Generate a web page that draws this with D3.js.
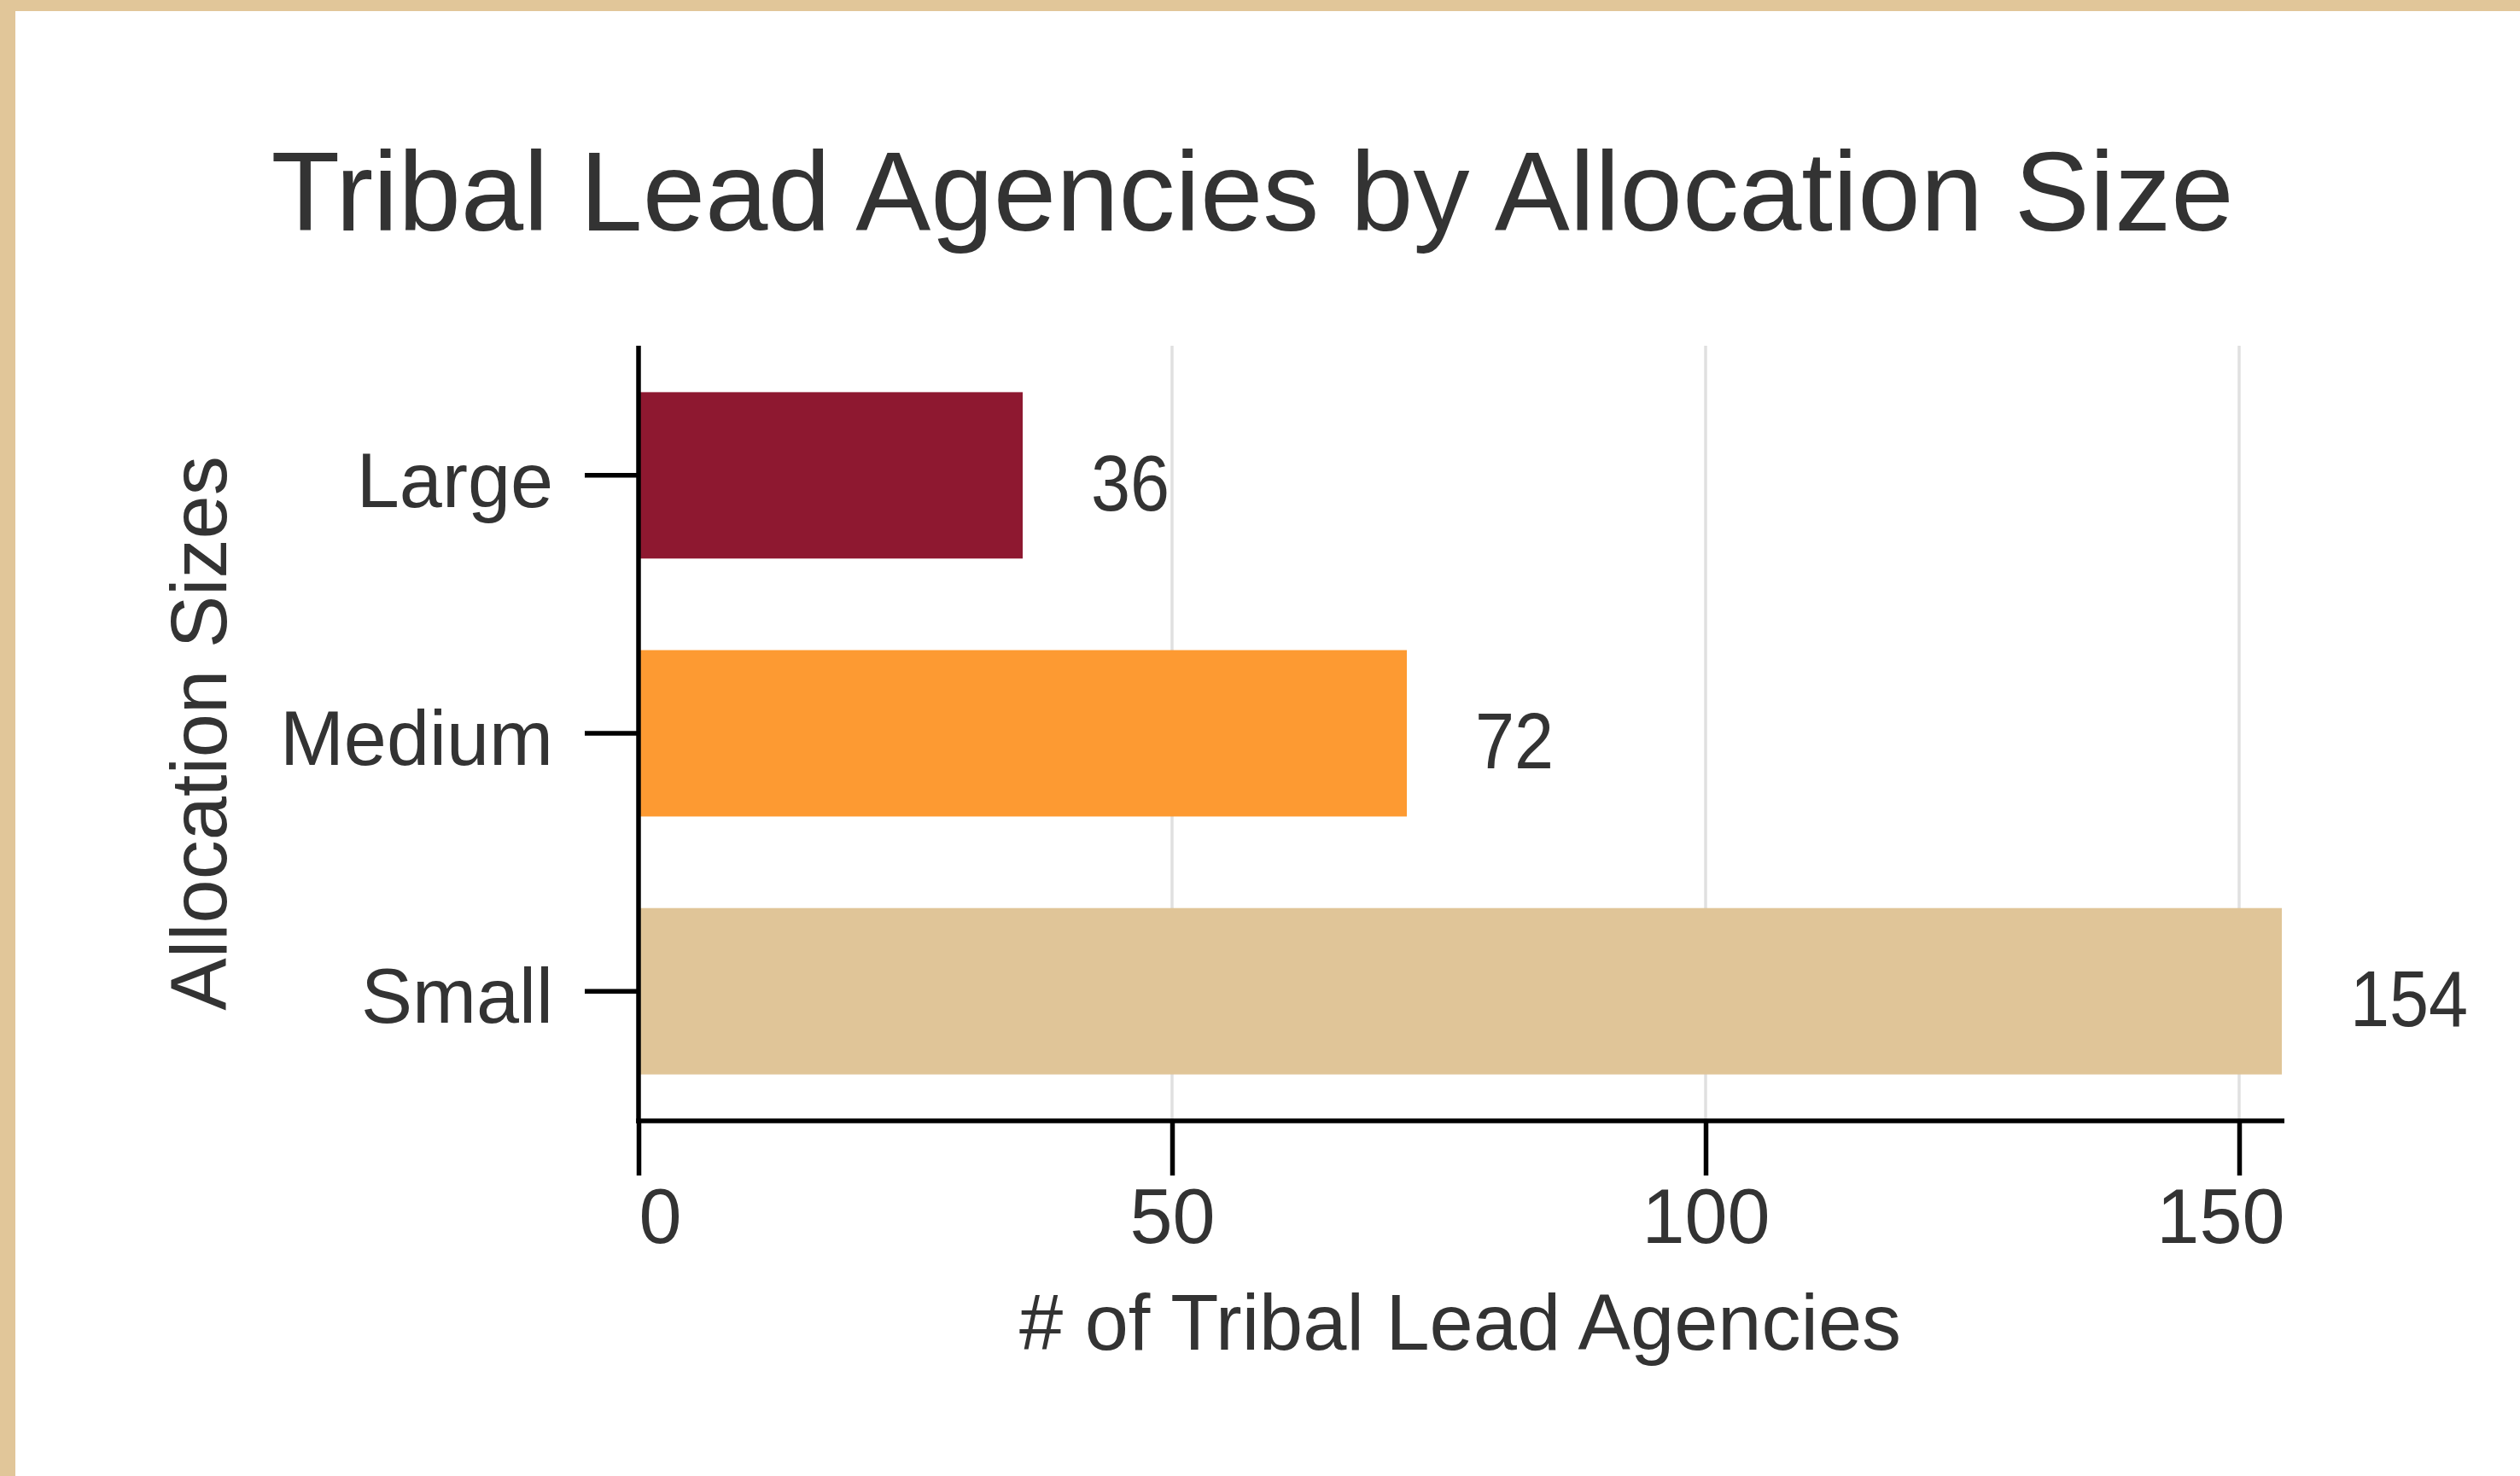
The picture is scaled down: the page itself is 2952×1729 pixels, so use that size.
<!DOCTYPE html>
<html>
<head>
<meta charset="utf-8">
<title>Tribal Lead Agencies by Allocation Size</title>
<script src="https://cdn.jsdelivr.net/npm/d3@7"></script>
<style>
  html, body { margin: 0; padding: 0; background: #fff; }
  svg { display: block; }
  .axis path, .axis line { stroke: #000; stroke-width: 5.5; }
  .axis text { font-family: "Liberation Sans", Arial, sans-serif; font-size: 90px; fill: #333; }
  .grid line { stroke: #e0e0e0; stroke-width: 3.5; }
</style>
</head>
<body>
<div id="chart"></div>
<script>
// chart data
const categories = ['Large', 'Medium', 'Small'];
const counts = [36, 72, 154];
const barColors = ['#8e1830', '#fd9a32', '#e0c598'];
const xTicks = [0, 50, 100, 150];

const title = 'Tribal Lead Agencies by Allocation Size';
const xLabel = '# of Tribal Lead Agencies';
const yLabel = 'Allocation Sizes';

const W = 2952, H = 1729;
// plot area in page pixels
const plot = {left: 748, right: 2673, top: 405, bottom: 1313};

const svg = d3.select('#chart')
  .append('svg')
    .attr('width', W)
    .attr('height', H);

// tan frame on the top and left edges
svg.append('rect').attr('x', 0).attr('y', 0).attr('width', W).attr('height', 13).attr('fill', '#e1c699');
svg.append('rect').attr('x', 0).attr('y', 0).attr('width', 18).attr('height', H).attr('fill', '#e1c699');

const xScale = d3.scaleLinear().domain([0, 154]).range([plot.left, plot.right]);
const yScale = d3.scaleBand()
  .domain(categories)
  .range([plot.top, plot.bottom])
  .paddingInner(0.355)
  .paddingOuter(0.18);

// vertical grid lines
svg.append('g')
  .attr('class', 'grid')
  .selectAll('line')
  .data(xTicks.slice(1))
  .enter().append('line')
    .attr('x1', d => xScale(d))
    .attr('x2', d => xScale(d))
    .attr('y1', plot.top)
    .attr('y2', plot.bottom);

// bars
const data = categories.map((c, i) => ({cat: c, count: counts[i], color: barColors[i]}));

svg.selectAll('.bar')
  .data(data)
  .enter().append('rect')
    .attr('class', 'bar')
    .attr('x', xScale(0))
    .attr('y', d => yScale(d.cat))
    .attr('width', d => xScale(d.count) - xScale(0))
    .attr('height', yScale.bandwidth())
    .attr('fill', d => d.color);

// value labels next to the bars (narrow digits, squeezed horizontally)
svg.selectAll('.value')
  .data(data)
  .enter().append('text')
    .attr('class', 'value')
    .attr('transform', d => `translate(${xScale(d.count) + 80}, ${yScale(d.cat) + yScale.bandwidth() / 2 + 41}) scale(0.9, 1)`)
    .attr('font-family', '"Liberation Sans", Arial, sans-serif')
    .attr('font-size', 92)
    .attr('fill', '#333')
    .text(d => d.count);

// x axis
const axisEnd = plot.right + 3;
const xAxis = svg.append('g')
  .attr('class', 'axis axis--x')
  .attr('transform', `translate(0, ${plot.bottom})`)
  .call(d3.axisBottom(xScale).tickValues(xTicks).tickSize(64).tickSizeOuter(0).tickPadding(15));
xAxis.select('.domain').attr('d', `M${plot.left - 2.75},0H${axisEnd}`);

// keep the end tick labels inside the axis extent
xAxis.selectAll('.tick text').each(function(d) {
  const w = this.getComputedTextLength();
  const cx = xScale(d);
  let shift = 0;
  if (cx - w / 2 < plot.left) shift = plot.left - (cx - w / 2);
  if (cx + w / 2 > axisEnd) shift = axisEnd - (cx + w / 2);
  d3.select(this).attr('dx', shift);
});

// y axis
const yAxis = svg.append('g')
  .attr('class', 'axis axis--y')
  .attr('transform', `translate(${plot.left}, 0)`)
  .call(d3.axisLeft(yScale).tickSize(63).tickSizeOuter(0).tickPadding(37));
yAxis.select('.domain').attr('d', `M0,${plot.top}V${plot.bottom + 2.75}`);
yAxis.selectAll('.tick text').attr('dy', '0.41em');

// title and axis labels
svg.append('text')
  .attr('x', 1467)
  .attr('y', 270)
  .attr('text-anchor', 'middle')
  .attr('font-family', '"Liberation Sans", Arial, sans-serif')
  .attr('font-size', 132)
  .attr('fill', '#333')
  .text(title);

svg.append('text')
  .attr('x', (plot.left + plot.right) / 2)
  .attr('y', 1581)
  .attr('text-anchor', 'middle')
  .attr('font-family', '"Liberation Sans", Arial, sans-serif')
  .attr('font-size', 92)
  .attr('fill', '#333')
  .text(xLabel);

svg.append('text')
  .attr('transform', `translate(265, ${(plot.top + plot.bottom) / 2}) rotate(-90)`)
  .attr('text-anchor', 'middle')
  .attr('font-family', '"Liberation Sans", Arial, sans-serif')
  .attr('font-size', 92)
  .attr('fill', '#333')
  .text(yLabel);
</script>
</body>
</html>
